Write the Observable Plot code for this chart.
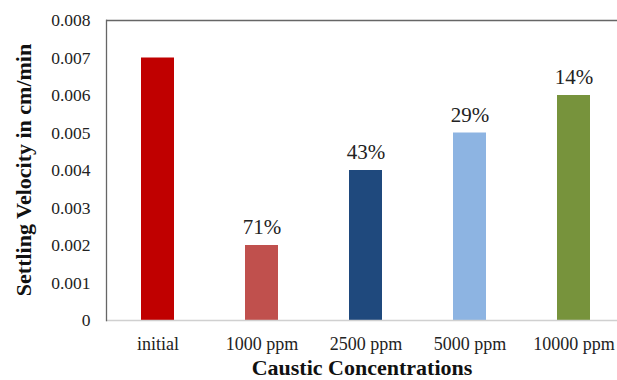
<!DOCTYPE html>
<html>
<head>
<meta charset="utf-8">
<script src="https://cdn.jsdelivr.net/npm/d3@7"></script>
<script src="https://cdn.jsdelivr.net/npm/@observablehq/plot@0.6"></script>
<style>
  html, body { margin: 0; padding: 0; background: #fff; overflow: hidden; }
  #chart svg { display: block; }
</style>
</head>
<body>
<div id="chart"></div>
<script>
// Settling velocity for each caustic concentration
const categories = ["initial", "1000 ppm", "2500 ppm", "5000 ppm", "10000 ppm"];
const velocities = [0.007, 0.002, 0.004, 0.005, 0.006];
const reductions = ["", "71%", "43%", "29%", "14%"];
const colors = ["#C00000", "#C0504D", "#1F497D", "#8DB4E2", "#77933C"];
const yTicks = [0, 0.001, 0.002, 0.003, 0.004, 0.005, 0.006, 0.007, 0.008];

const data = categories.map((c, i) => ({
  category: c,
  velocity: velocities[i],
  label: reductions[i],
  color: colors[i]
}));

const serif = "'Liberation Serif', 'Times New Roman', serif";

const chart = Plot.plot({
  width: 617,
  height: 380,
  marginTop: 20,
  marginBottom: 60,
  marginLeft: 106,
  marginRight: 0,
  style: { fontFamily: serif, fontSize: "17px", color: "#222", background: "#fff", overflow: "visible" },
  x: {
    domain: categories,
    range: [106, 626],
    paddingInner: 0.68,
    paddingOuter: 0.34,
    label: null
  },
  y: {
    domain: [0, 0.008],
    ticks: yTicks,
    label: null
  },
  marks: [
    Plot.barY(data, { x: "category", y: "velocity", fill: "color" }),
    Plot.text(data, {
      x: "category", y: "velocity", text: "label",
      dy: -18, fontSize: 21, fill: "#222", fontFamily: serif
    }),
    // top border of the plot area
    Plot.ruleY([0.008], { stroke: "#666", strokeWidth: 1.3 }),
    // baseline
    Plot.ruleY([0], { stroke: "#d0d0d0", strokeWidth: 1.3 }),
    Plot.axisY(yTicks, {
      tickSize: 0, tickPadding: 16, fontSize: 17.5, fill: "#222", fontFamily: serif,
      tickFormat: d => d === 0 ? "0" : d.toFixed(3),
      label: null
    }),
    Plot.axisX({ tickSize: 0, tickPadding: 17, fontSize: 18, fill: "#222", fontFamily: serif, label: null }),
    // value axis line
    Plot.frame({ anchor: "left", stroke: "#666", strokeWidth: 1.3 })
  ]
});

// axis titles
const svg = d3.select(chart);
svg.append("text")
  .attr("transform", "translate(23,170) rotate(-90)")
  .attr("text-anchor", "middle")
  .attr("dominant-baseline", "central")
  .style("font-family", serif)
  .style("font-weight", "bold")
  .style("font-size", "22px")
  .attr("fill", "#111")
  .text("Settling Velocity in cm/min");
svg.append("text")
  .attr("x", 362)
  .attr("y", 375)
  .attr("text-anchor", "middle")
  .style("font-family", serif)
  .style("font-weight", "bold")
  .style("font-size", "22px")
  .attr("fill", "#111")
  .text("Caustic Concentrations");

document.getElementById("chart").appendChild(chart);
</script>
</body>
</html>
